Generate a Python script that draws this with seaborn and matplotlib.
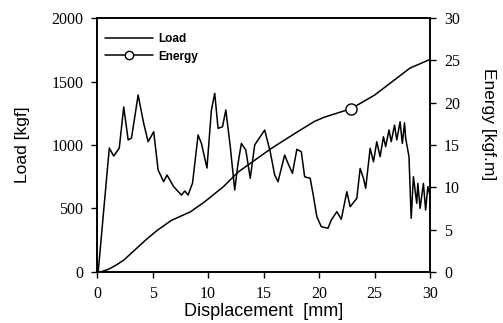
import numpy as np
import pandas as pd
import seaborn as sns
import matplotlib
matplotlib.use("Agg")
import matplotlib.pyplot as plt
from matplotlib.lines import Line2D

# ---- data ----
load_disp = [0.0, 0.1, 1.1, 1.5, 2.0, 2.4, 2.8, 3.1, 3.7, 4.2, 4.6, 5.1, 5.5, 6.0, 6.3,
             6.9, 7.6, 7.9, 8.2, 8.6, 9.1, 9.4, 9.9, 10.3, 10.6, 10.9, 11.3, 11.6, 12.0,
             12.4, 12.7, 13.0, 13.4, 13.8, 14.2, 14.5, 15.1, 15.6, 16.0, 16.3, 16.9, 17.2,
             17.6, 18.0, 18.4, 18.7, 19.2, 19.5, 19.8, 20.2, 20.8, 21.1, 21.6, 22.0, 22.5,
             22.8, 23.4, 23.7, 24.0, 24.2, 24.6, 24.9, 25.2, 25.5, 25.8, 26.0, 26.3, 26.5,
             26.8, 27.0, 27.3, 27.5, 27.7, 27.8, 28.1, 28.3, 28.5, 28.8, 28.9, 29.1, 29.4,
             29.6, 29.8, 30.0]
load_kgf = [0, 0, 976, 913, 976, 1300, 1040, 1055, 1394, 1170, 1026, 1105, 803, 711, 764,
            672, 606, 638, 606, 700, 1079, 1013, 819, 1276, 1407, 1131, 1144, 1276, 987,
            646, 856, 1013, 960, 738, 1000, 1040, 1118, 947, 764, 711, 921, 856,
            777, 966, 947, 750, 738, 593, 435, 357, 344, 409, 475, 415, 632,
            514, 580, 816, 738, 659, 974, 868, 1026, 908, 1065, 987, 1118, 1026,
            1157, 1040, 1183, 1013, 1175, 1055, 908, 423, 750, 541, 698, 501, 698,
            488, 672, 600]

energy_disp = [0.3, 1.0, 1.7, 2.4, 3.4, 4.4, 5.4, 6.7, 8.4, 9.7, 11.4, 12.7, 15.7, 18.1,
               19.6, 20.5, 22.9, 25.0, 26.8, 28.2, 29.8, 30.0]
energy_kgfm = [0.0, 0.3, 0.8, 1.4, 2.6, 3.8, 4.9, 6.1, 7.1, 8.3, 10.1, 11.8, 14.6, 16.6,
               17.8, 18.3, 19.3, 20.9, 22.7, 24.1, 25.0, 25.1]
marker_index = [16]

load_ticks = [0, 500, 1000, 1500, 2000]
energy_ticks = [0, 5, 10, 15, 20, 25, 30]
disp_ticks = [0, 5, 10, 15, 20, 25, 30]

# ---- drawing ----
sns.set_theme(style="ticks")
plt.rcParams['font.family'] = ['Liberation Sans', 'DejaVu Sans']
plt.rcParams['text.color'] = 'black'
plt.rcParams['axes.labelcolor'] = 'black'

fig = plt.figure(figsize=(5.03, 3.23), dpi=100)
ax = fig.add_axes([0.193, 0.158, 0.662, 0.786])
ax2 = ax.twinx()

df_load = pd.DataFrame({"Displacement": load_disp, "Load": load_kgf})
df_en = pd.DataFrame({"Displacement": energy_disp, "Energy": energy_kgfm})

sns.lineplot(data=df_load, x="Displacement", y="Load", ax=ax, color="black",
             linewidth=1.1, sort=False, estimator=None)
sns.lineplot(data=df_en, x="Displacement", y="Energy", ax=ax2, color="black",
             linewidth=1.1, sort=False, estimator=None, marker="o", markevery=marker_index,
             markersize=8, markerfacecolor="white", markeredgecolor="black",
             markeredgewidth=1.0)

ax.set_xlim(0, 30)
ax.set_ylim(0, 2000)
ax2.set_ylim(0, 30)
ax.set_xticks(disp_ticks)
ax.set_yticks(load_ticks)
ax2.set_yticks(energy_ticks)

tick_font = dict(family=['Liberation Serif', 'DejaVu Serif'], size=11.5, color='black')
ax.set_xticklabels([str(t) for t in disp_ticks], **tick_font)
ax.set_yticklabels([str(t) for t in load_ticks], **tick_font)
ax2.set_yticklabels([str(t) for t in energy_ticks], **tick_font)

ax.set_xlabel("Displacement  [mm]", fontsize=13, color='black')
ax.set_ylabel("Load [kgf]", fontsize=12.5, color='black')
ax2.set_ylabel("Energy [kgf.m]", fontsize=12.5, rotation=270, color='black')
for lab in (ax.xaxis.label, ax.yaxis.label, ax2.yaxis.label):
    lab.set_ha("center")
    lab.set_va("center")
    lab.set_rotation_mode("anchor")
ax.xaxis.set_label_coords(0.499, -0.156)
ax.yaxis.set_label_coords(-0.225, 0.50)
ax2.yaxis.set_label_coords(1.174, 0.583)

for a in (ax, ax2):
    for s in a.spines.values():
        s.set_visible(True)
        s.set_linewidth(1.2)
        s.set_color("black")
    a.tick_params(colors="black", width=1.0, length=4, pad=6)

handles = [Line2D([], [], color="black", linewidth=1.1),
           Line2D([], [], color="black", linewidth=1.1, marker="o", markersize=6,
                  markerfacecolor="white", markeredgecolor="black")]
leg = ax.legend(handles, ["Load", "Energy"], loc="upper left", frameon=False,
                bbox_to_anchor=(0.0, 0.975),
                prop=dict(family='Liberation Sans', size=8.5, weight='bold'),
                handlelength=4.0, handletextpad=0.5, borderaxespad=0.3,
                labelspacing=0.5)
for t in leg.get_texts():
    t.set_color('black')

fig.savefig("out.png", dpi=100)
